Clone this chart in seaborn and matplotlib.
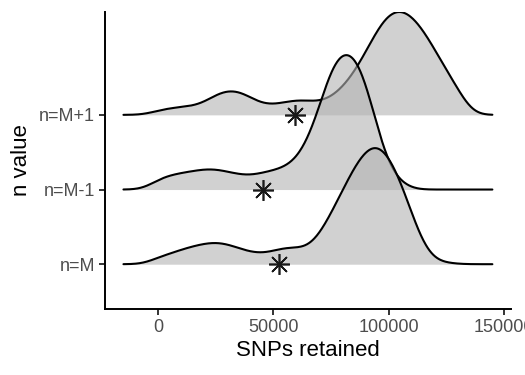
import numpy as np
import pandas as pd
import seaborn as sns
import matplotlib.pyplot as plt
from matplotlib import transforms

# SNPs retained, binned; run counts per bin for each n value
snp_bins = [0, 5000, 10000, 15000, 20000, 25000, 30000, 35000, 40000,
            45000, 50000, 55000, 60000, 65000, 70000, 75000, 80000, 85000,
            90000, 95000, 100000, 105000, 110000, 115000, 120000, 125000,
            130000]
count_m = [8, 10, 15, 18, 21, 23, 21, 16, 12, 10, 13, 18, 17, 14,
           28, 51, 74, 99, 117, 127, 112, 87, 52, 15, 2, 2, 0]
count_m_minus = [12, 14, 17, 18, 21, 21, 18, 15, 13, 17, 19, 22, 28, 47,
                 79, 129, 142, 141, 116, 59, 18, 7, 0, 0, 0, 0, 0]
count_m_plus = [5, 7, 8, 9, 11, 22, 26, 26, 18, 10, 10, 13, 16, 15,
                12, 17, 27, 42, 63, 88, 107, 110, 104, 87, 68, 44, 30]

groups = ['n=M', 'n=M-1', 'n=M+1']
# reference value for each n (asterisks)
star_snps = [52600, 45600, 59300]

xticks = [0, 50000, 100000, 150000]

df = pd.DataFrame({
    'snps': snp_bins * 3,
    'count': count_m + count_m_minus + count_m_plus,
    'n': np.repeat(groups, len(snp_bins)),
})
df = df[df['count'] > 0]

bw = 5000
scale = 1.8
lo = df['snps'].min() - 3 * bw
hi = df['snps'].max() + 3 * bw

sns.set_theme(style='ticks')
plt.rcParams['font.family'] = ['Liberation Sans', 'DejaVu Sans']

fig, ax = plt.subplots(figsize=(5.25, 3.75), dpi=100)
fig.subplots_adjust(left=0.2, right=0.973, bottom=0.176, top=0.968)

drawn = {}
for j, g in enumerate(groups[::-1]):  # top ridge first, lower ones on top
    sub = df[df['n'] == g]
    sd = np.sqrt(np.cov(sub['snps'], aweights=sub['count']))
    kw = dict(data=sub, x='snps', weights='count', bw_method=bw / sd,
              cut=50, clip=(lo, hi), gridsize=600, ax=ax)
    nc = len(ax.collections)
    sns.kdeplot(**kw, fill=True, color='#b3b3b3', alpha=0.6,
                linewidth=0, zorder=1 + 2 * j)
    nl = len(ax.lines)
    sns.kdeplot(**kw, color='black', linewidth=1.5, zorder=2 + 2 * j)
    drawn[g] = (ax.collections[nc:], ax.lines[nl:])

# ridgeline scaling: tallest density = scale * spacing
peak = max(ln.get_ydata().max() for _, lines in drawn.values() for ln in lines)
k = scale / peak
ytop = 0
for i, g in enumerate(groups):
    tr = transforms.Affine2D().scale(1, k).translate(0, i + 1) + ax.transData
    colls, lines = drawn[g]
    for art in colls + lines:
        art.set_transform(tr)
    ytop = max(ytop, i + 1 + k * max(ln.get_ydata().max() for ln in lines))

ax.plot(star_snps, range(1, len(groups) + 1), ls='none', marker=(8, 2, 0),
        ms=15, mew=1.2, color='#1a1a1a', zorder=20)

pad = 0.05 * (hi - lo)
ax.set_xlim(lo - pad, hi + pad)
ax.set_ylim(0.4, max(len(groups) + 0.6, ytop))
ax.set_xticks(xticks)
ax.set_yticks(range(1, len(groups) + 1), labels=groups)
ax.xaxis.set_major_formatter(plt.FuncFormatter(lambda v, p: f'{v:.0f}'))

ax.set_xlabel('SNPs retained', fontsize=16, color='black', labelpad=3)
ax.set_ylabel('n value', fontsize=16, color='black', labelpad=5)
ax.tick_params(length=4, width=1.4, color='#333333', labelsize=13,
               labelcolor='#4d4d4d', pad=3)
for s in ['left', 'bottom']:
    ax.spines[s].set_linewidth(1.4)
    ax.spines[s].set_color('black')
sns.despine(ax=ax)

fig.savefig('out.png', dpi=100)
